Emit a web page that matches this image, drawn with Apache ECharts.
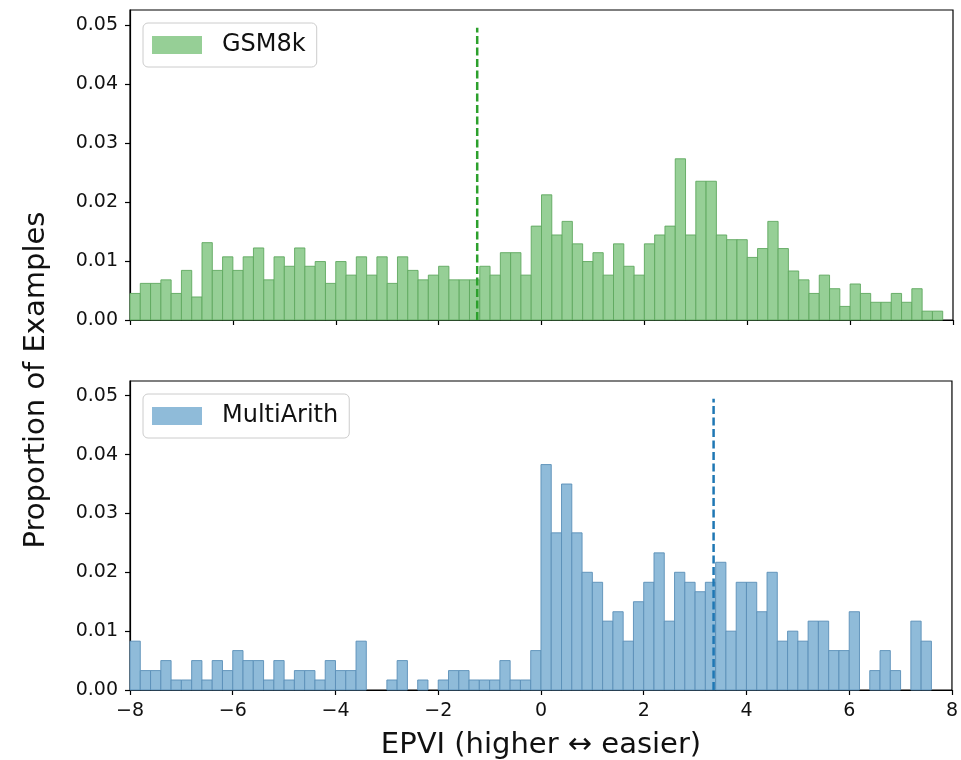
<!DOCTYPE html>
<html>
<head>
<meta charset="utf-8">
<script src="https://cdn.jsdelivr.net/npm/echarts@6/dist/echarts.min.js"></script>
<style>
  html, body { margin: 0; padding: 0; background: #fff; }
  #chart { width: 961px; height: 760px; }
</style>
</head>
<body>
<div id="chart"></div>
<script>
// histogram bins: 80 bins of width 0.2 starting at -8
const binStart = -8;
const binWidth = 0.2;

// proportion of examples per bin
const gsm8k = [
  0.0045, 0.0062, 0.0062, 0.0068, 0.0045, 0.0084, 0.0039, 0.0131, 0.0084, 0.0107,
  0.0084, 0.0107, 0.0122, 0.0068, 0.0107, 0.0091, 0.0122, 0.0091, 0.0099, 0.0062,
  0.0099, 0.0076, 0.0107, 0.0076, 0.0107, 0.0062, 0.0107, 0.0084, 0.0068, 0.0076,
  0.0091, 0.0068, 0.0068, 0.0068, 0.0091, 0.0076, 0.0114, 0.0114, 0.0076, 0.0159,
  0.0212, 0.0144, 0.0167, 0.0129, 0.0099, 0.0114, 0.0076, 0.0129, 0.0091, 0.0076,
  0.0129, 0.0144, 0.0159, 0.0273, 0.0144, 0.0235, 0.0235, 0.0144, 0.0136, 0.0136,
  0.0106, 0.0121, 0.0167, 0.0121, 0.0083, 0.0068, 0.0045, 0.0076, 0.0053, 0.0023,
  0.0061, 0.0045, 0.0030, 0.0030, 0.0045, 0.0030, 0.0053, 0.0015, 0.0015, 0
];
const multiArith = [
  0.0083, 0.0033, 0.0033, 0.0050, 0.0017, 0.0017, 0.0050, 0.0017, 0.0050, 0.0033,
  0.0067, 0.0050, 0.0050, 0.0017, 0.0050, 0.0017, 0.0033, 0.0033, 0.0017, 0.0050,
  0.0033, 0.0033, 0.0083, 0, 0, 0.0017, 0.0050, 0, 0.0017, 0,
  0.0017, 0.0033, 0.0033, 0.0017, 0.0017, 0.0017, 0.0050, 0.0017, 0.0017, 0.0067,
  0.0383, 0.0267, 0.0350, 0.0267, 0.0200, 0.0183, 0.0117, 0.0133, 0.0083, 0.0150,
  0.0183, 0.0233, 0.0117, 0.0200, 0.0183, 0.0167, 0.0183, 0.0217, 0.0100, 0.0183,
  0.0183, 0.0133, 0.0200, 0.0083, 0.0100, 0.0083, 0.0117, 0.0117, 0.0067, 0.0067,
  0.0133, 0, 0.0033, 0.0067, 0.0033, 0, 0.0117, 0.0083, 0, 0
];

// dashed reference lines
const gsmLineX = -1.25;
const multiLineX = 3.36;
const lineTop = 0.0495;

const xTicks = [-8, -6, -4, -2, 0, 2, 4, 6, 8];
const yTicks = [0, 0.01, 0.02, 0.03, 0.04, 0.05];

function toBins(values) {
  return values.map((v, i) => {
    const lo = +(binStart + i * binWidth).toFixed(2);
    return [lo, +(lo + binWidth).toFixed(2), v];
  });
}

const font = 'DejaVu Sans';
const textColor = '#111';

function makeRender(edge) {
  return function (params, api) {
    if (!api.value(2)) return null;
    const a = api.coord([api.value(0), 0]);
    const b = api.coord([api.value(1), api.value(2)]);
    return {
      type: 'rect',
      shape: { x: a[0], y: b[1], width: b[0] - a[0], height: a[1] - b[1] },
      style: { fill: api.visual('color'), stroke: edge, lineWidth: 0.9 }
    };
  };
}

function xAxisFor(idx, showLabels) {
  return {
    type: 'value', gridIndex: idx, min: -8, max: 8, interval: 2,
    axisLine: { show: true, onZero: false, lineStyle: { color: '#000', width: 1.2 } },
    axisTick: { show: true, length: 5, customValues: xTicks, lineStyle: { color: '#000', width: 1.2 } },
    axisLabel: {
      show: showLabels, margin: 12, color: textColor, fontSize: 19, fontFamily: font,
      customValues: xTicks,
      formatter: v => String(v).replace('-', '\u2212')
    },
    splitLine: { show: false }
  };
}

function yAxisFor(idx) {
  return {
    type: 'value', gridIndex: idx, min: 0, max: 0.0525,
    axisLine: { show: true, onZero: false, lineStyle: { color: '#000', width: 1.2 } },
    axisTick: { show: true, length: 5, customValues: yTicks, lineStyle: { color: '#000', width: 1.2 } },
    axisLabel: {
      margin: 12, color: textColor, fontSize: 19, fontFamily: font,
      customValues: yTicks, formatter: v => v.toFixed(2)
    },
    splitLine: { show: false }
  };
}

function legendFor(name, top) {
  return {
    data: [name], left: 143, top: top, orient: 'vertical',
    icon: 'rect', itemWidth: 50, itemHeight: 18,
    padding: [10, 11, 10, 9],
    borderColor: '#cccccc', borderWidth: 1, borderRadius: 5,
    backgroundColor: 'rgba(255,255,255,0.8)',
    selectedMode: false,
    textStyle: { fontSize: 24, fontFamily: font, color: textColor, lineHeight: 24, padding: [0, 0, 0, 15] }
  };
}

const chart = echarts.init(document.getElementById('chart'), null, { renderer: 'canvas' });

chart.setOption({
  animation: false,
  backgroundColor: '#fff',
  grid: [
    { left: 130, top: 10, width: 823, height: 310, show: true, borderColor: '#000', borderWidth: 1.2 },
    { left: 130, top: 381, width: 823, height: 309, show: true, borderColor: '#000', borderWidth: 1.2 }
  ],
  xAxis: [xAxisFor(0, false), xAxisFor(1, true)],
  yAxis: [yAxisFor(0), yAxisFor(1)],
  legend: [legendFor('GSM8k', 23), legendFor('MultiArith', 394)],
  series: [
    {
      name: 'GSM8k', type: 'custom', xAxisIndex: 0, yAxisIndex: 0,
      itemStyle: { color: '#96cf96' },
      renderItem: makeRender('#5fa85f'),
      encode: { x: [0, 1], y: 2 },
      data: toBins(gsm8k)
    },
    {
      name: 'MultiArith', type: 'custom', xAxisIndex: 1, yAxisIndex: 1,
      itemStyle: { color: '#8fbbd9' },
      renderItem: makeRender('#5a8fb8'),
      encode: { x: [0, 1], y: 2 },
      data: toBins(multiArith)
    },
    {
      type: 'line', xAxisIndex: 0, yAxisIndex: 0, symbol: 'none', z: 5,
      lineStyle: { color: '#2ca02c', width: 2.5, type: [8, 3.5] },
      data: [[gsmLineX, 0], [gsmLineX, lineTop]]
    },
    {
      type: 'line', xAxisIndex: 1, yAxisIndex: 1, symbol: 'none', z: 5,
      lineStyle: { color: '#1f77b4', width: 2.5, type: [8, 3.5] },
      data: [[multiLineX, 0], [multiLineX, lineTop]]
    }
  ],
  graphic: [
    {
      type: 'text', x: 36, y: 380, rotation: Math.PI / 2,
      style: {
        text: 'Proportion of Examples', fontSize: 29, fontFamily: font, fill: textColor,
        align: 'center', verticalAlign: 'middle'
      }
    },
    {
      type: 'text', x: 541, y: 745,
      style: {
        text: 'EPVI (higher \u2194 easier)', fontSize: 29, fontFamily: font, fill: textColor,
        align: 'center', verticalAlign: 'middle'
      }
    }
  ]
});
</script>
</body>
</html>
